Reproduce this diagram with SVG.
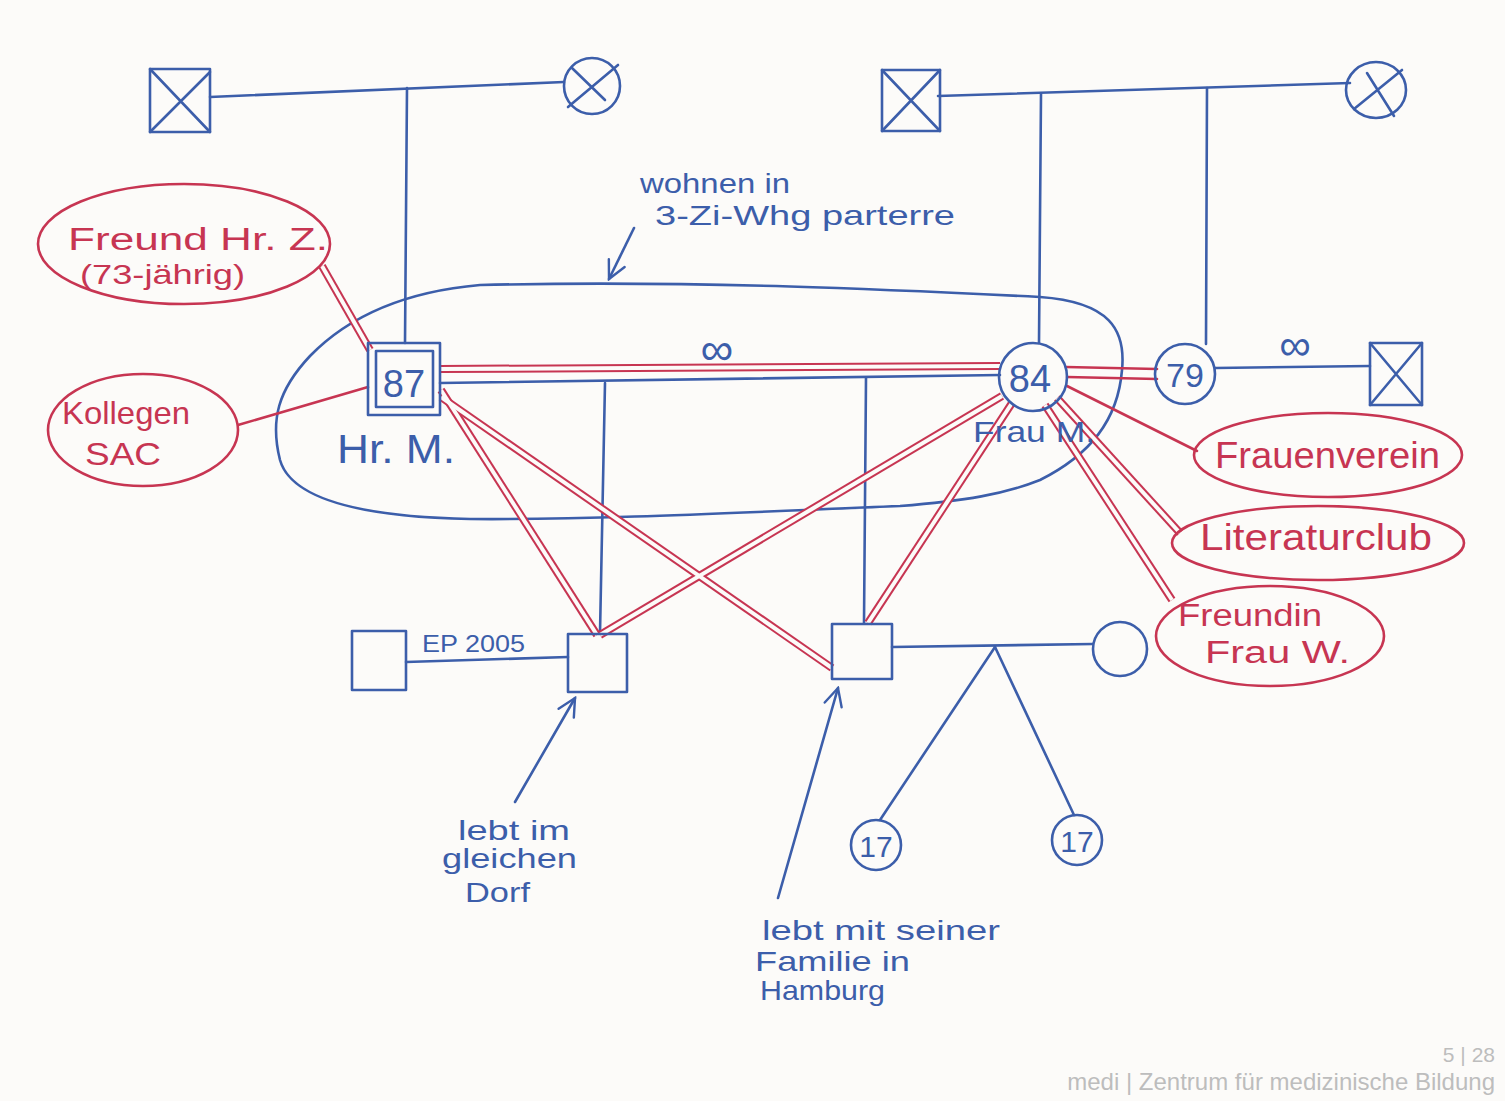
<svg xmlns="http://www.w3.org/2000/svg" width="1505" height="1101" viewBox="0 0 1505 1101">
<style>
.b{fill:none;stroke:#3c5eaa;stroke-width:2.6;stroke-linecap:round;stroke-linejoin:round}
.r{fill:none;stroke:#c73552;stroke-width:2.6;stroke-linecap:round;stroke-linejoin:round}
.rd{fill:none;stroke:#c73552;stroke-width:8;stroke-linecap:butt}
.rdw{fill:none;stroke:#fcfbf9;stroke-width:4;stroke-linecap:butt}
.tb{font-family:"Liberation Sans",Arial,sans-serif;fill:#3c5eaa}
.tr{font-family:"Liberation Sans",Arial,sans-serif;fill:#c73552}
.ft{font-family:"Liberation Sans",Arial,sans-serif;fill:#bdbdbd;text-anchor:end}
</style>
<defs>
<marker id="ah" viewBox="0 0 20 20" refX="18" refY="10" markerWidth="22" markerHeight="22" markerUnits="userSpaceOnUse" orient="auto">
<polyline points="2,2 18,10 2,18" fill="none" stroke="#3c5eaa" stroke-width="2.2" stroke-linecap="round"/>
</marker>
</defs>
<rect x="0" y="0" width="1505" height="1101" fill="#fcfbf9"/>

<g id="household">
<path class="b" d="M480,285 C700,280 900,290 1040,297 C1110,302 1126,330 1122,370 C1118,420 1090,455 1040,480 C1005,494 965,501 900,506 C750,512 600,520 470,519 C370,517 292,502 280,460 C270,420 278,390 310,356 C345,320 400,292 480,285 Z"/>
</g>

<g id="connectors">
<path class="b" d="M210,97 L564,82"/>
<path class="b" d="M407,88 L405,343"/>
<path class="b" d="M938,96 L1350,83"/>
<path class="b" d="M1041,94 L1039,343"/>
<path class="b" d="M1207,88 L1206,344"/>
<path class="b" d="M440,383 L1000,375"/>
<path class="b" d="M605,383 L600,633"/>
<path class="b" d="M866,378 L864,623"/>
<path class="b" d="M406,662 L568,657"/>
<path class="b" d="M892,647 L1093,644"/>
<path class="b" d="M995,647 L880,820"/>
<path class="b" d="M995,647 L1074,815"/>
<path class="b" d="M1215,368 L1370,366"/>
<g>
<path class="rd" d="M440,369 L1000,366"/>
<path class="rd" d="M322,266 L370,350"/>
<path class="rd" d="M441,390 L597,635"/>
<path class="rd" d="M441,397 L832,668"/>
<path class="rd" d="M1002,396 L600,635"/>
<path class="rd" d="M1012,403 L868,623"/>
<path class="rd" d="M1057,398 L1180,533"/>
<path class="rd" d="M1045,405 L1172,600"/>
<path class="rdw" d="M440,369 L1000,366"/>
<path class="rdw" d="M322,266 L370,350"/>
<path class="rdw" d="M441,390 L597,635"/>
<path class="rdw" d="M441,397 L832,668"/>
<path class="rdw" d="M1002,396 L600,635"/>
<path class="rdw" d="M1012,403 L868,623"/>
<path class="rdw" d="M1057,398 L1180,533"/>
<path class="rdw" d="M1045,405 L1172,600"/>
</g>
<path class="r" d="M1066,367 L1157,369"/>
<path class="r" d="M1067,377 L1157,379"/>
<path class="r" d="M238,425 L368,387"/>
<path class="r" d="M1067,386 L1197,451"/>
<path class="b" d="M634,228 L609,279" marker-end="url(#ah)"/>
<path class="b" d="M515,802 L575,698" marker-end="url(#ah)"/>
<path class="b" d="M778,898 L838,688" marker-end="url(#ah)"/>
</g>

<g id="gf-left">
<rect class="b" x="150" y="69" width="60" height="63"/>
<path class="b" d="M150,69 L210,132 M210,72 L150,132"/>
</g>
<g id="gm-left">
<circle class="b" cx="592" cy="86" r="28"/>
<path class="b" d="M572,68 L605,100 M568,107 L618,65"/>
</g>
<g id="gf-right">
<rect class="b" x="882" y="70" width="58" height="61"/>
<path class="b" d="M882,70 L940,131 M940,70 L882,131"/>
</g>
<g id="gm-right">
<ellipse class="b" cx="1376" cy="90" rx="30" ry="28"/>
<path class="b" d="M1354,109 L1402,70 M1367,73 L1394,116"/>
</g>

<g id="hr-m">
<rect class="b" x="368" y="343" width="72" height="72"/>
<rect class="b" x="376" y="351" width="57" height="56"/>
<text class="tb" x="404" y="397" font-size="38" text-anchor="middle">87</text>
<text class="tb" x="337" y="463" font-size="40" textLength="118" lengthAdjust="spacingAndGlyphs">Hr. M.</text>
</g>
<g id="frau-m">
<circle class="b" cx="1033" cy="377" r="34"/>
<text class="tb" x="1030" y="392" font-size="38" text-anchor="middle">84</text>
<text class="tb" x="973" y="442" font-size="30" textLength="122" lengthAdjust="spacingAndGlyphs">Frau M.</text>
</g>
<g id="sister-79">
<circle class="b" cx="1185" cy="374" r="30"/>
<text class="tb" x="1185" y="387" font-size="34" text-anchor="middle">79</text>
</g>
<g id="sister-partner">
<rect class="b" x="1370" y="343" width="52" height="62"/>
<path class="b" d="M1370,343 L1422,405 M1422,343 L1370,405"/>
<text class="tb" x="1295" y="360" font-size="44" text-anchor="middle">∞</text>
</g>
<g id="marriage-label">
<text class="tb" x="717" y="365" font-size="46" text-anchor="middle">∞</text>
</g>

<g id="son1">
<rect class="b" x="568" y="634" width="59" height="58"/>
</g>
<g id="son1-partner">
<rect class="b" x="352" y="631" width="54" height="59"/>
<text class="tb" x="422" y="652" font-size="24" textLength="103" lengthAdjust="spacingAndGlyphs">EP 2005</text>
</g>
<g id="son2">
<rect class="b" x="832" y="624" width="60" height="55"/>
</g>
<g id="son2-wife">
<circle class="b" cx="1120" cy="649" r="27"/>
</g>
<g id="grandchild1">
<circle class="b" cx="876" cy="845" r="25"/>
<text class="tb" x="876" y="857" font-size="30" text-anchor="middle">17</text>
</g>
<g id="grandchild2">
<circle class="b" cx="1077" cy="840" r="25"/>
<text class="tb" x="1077" y="852" font-size="30" text-anchor="middle">17</text>
</g>

<g id="freund">
<ellipse class="r" cx="184" cy="244" rx="146" ry="60"/>
<text class="tr" x="68" y="250" font-size="31" textLength="260" lengthAdjust="spacingAndGlyphs">Freund Hr. Z.</text>
<text class="tr" x="80" y="284" font-size="28" textLength="165" lengthAdjust="spacingAndGlyphs">(73-jährig)</text>
</g>
<g id="kollegen">
<ellipse class="r" cx="143" cy="430" rx="95" ry="56"/>
<text class="tr" x="62" y="424" font-size="32" textLength="128" lengthAdjust="spacingAndGlyphs">Kollegen</text>
<text class="tr" x="85" y="465" font-size="32" textLength="76" lengthAdjust="spacingAndGlyphs">SAC</text>
</g>
<g id="frauenverein">
<ellipse class="r" cx="1328" cy="455" rx="134" ry="42"/>
<text class="tr" x="1215" y="468" font-size="36" textLength="225" lengthAdjust="spacingAndGlyphs">Frauenverein</text>
</g>
<g id="literaturclub">
<ellipse class="r" cx="1318" cy="543" rx="146" ry="37"/>
<text class="tr" x="1200" y="550" font-size="36" textLength="232" lengthAdjust="spacingAndGlyphs">Literaturclub</text>
</g>
<g id="freundin">
<ellipse class="r" cx="1270" cy="636" rx="114" ry="50"/>
<text class="tr" x="1178" y="626" font-size="31" textLength="144" lengthAdjust="spacingAndGlyphs">Freundin</text>
<text class="tr" x="1205" y="663" font-size="31" textLength="145" lengthAdjust="spacingAndGlyphs">Frau W.</text>
</g>

<g id="annotations">
<text class="tb" x="640" y="193" font-size="28" textLength="150" lengthAdjust="spacingAndGlyphs">wohnen in</text>
<text class="tb" x="655" y="225" font-size="28" textLength="300" lengthAdjust="spacingAndGlyphs">3-Zi-Whg parterre</text>
<text class="tb" x="458" y="840" font-size="28" textLength="112" lengthAdjust="spacingAndGlyphs">lebt im</text>
<text class="tb" x="442" y="868" font-size="28" textLength="135" lengthAdjust="spacingAndGlyphs">gleichen</text>
<text class="tb" x="465" y="902" font-size="28" textLength="65" lengthAdjust="spacingAndGlyphs">Dorf</text>
<text class="tb" x="762" y="940" font-size="28" textLength="238" lengthAdjust="spacingAndGlyphs">lebt mit seiner</text>
<text class="tb" x="755" y="971" font-size="28" textLength="155" lengthAdjust="spacingAndGlyphs">Familie in</text>
<text class="tb" x="760" y="1000" font-size="28" textLength="125" lengthAdjust="spacingAndGlyphs">Hamburg</text>
</g>

<g id="footer">
<text class="ft" x="1495" y="1062" font-size="21">5 | 28</text>
<text class="ft" x="1495" y="1090" font-size="24">medi | Zentrum für medizinische Bildung</text>
</g>
</svg>
